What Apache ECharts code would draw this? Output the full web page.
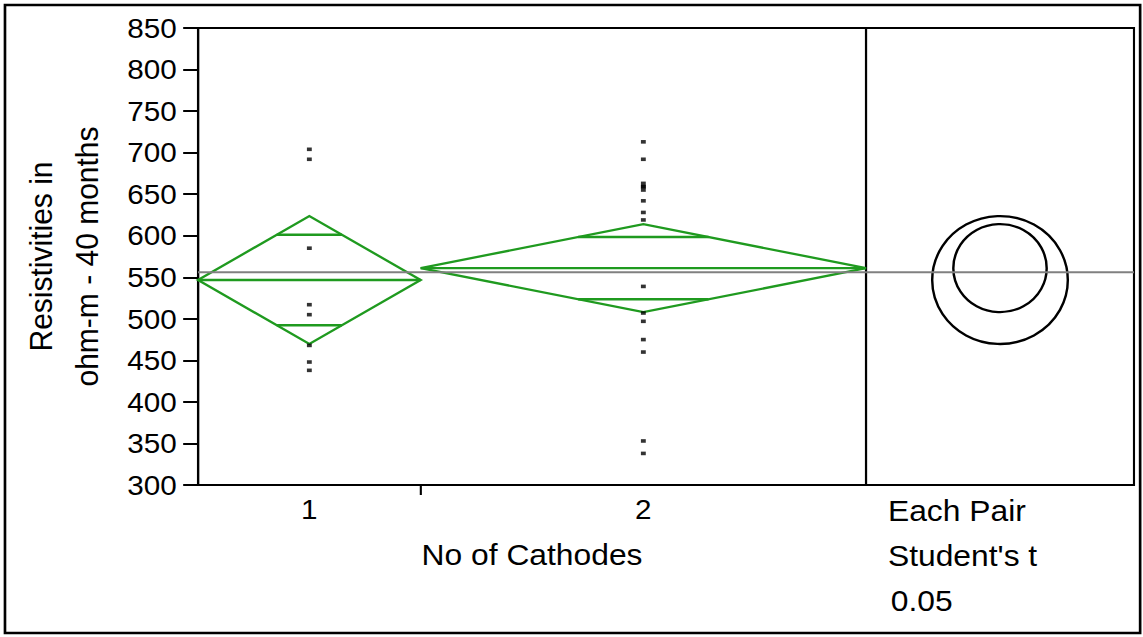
<!DOCTYPE html>
<html>
<head>
<meta charset="utf-8">
<script src="https://cdn.jsdelivr.net/npm/echarts@6/dist/echarts.min.js"></script>
<style>
html,body{margin:0;padding:0;background:#fff;overflow:hidden;width:1143px;height:637px;}
#wrap{width:1143px;height:637px;overflow:hidden;}
#chart{width:1078px;height:637px;transform:scaleX(1.06);transform-origin:0 0;}
</style>
</head>
<body>
<div id="wrap"><div id="chart"></div></div>
<script>
// ---- data ----
const categories = ['1', '2'];
const group1 = [704, 692, 585, 517, 505, 468, 448, 438];
const group2 = [713, 692, 663, 659, 659, 655, 642, 628, 619, 539, 507, 497, 475, 460, 353, 338];
const means = [546.7, 561];
const ciHalf = [77, 53];
const grandMean = 556;
const yMin = 300, yMax = 850, yStep = 50;
const panelText = ['Each Pair', "Student's t", '0.05'];

// ---- derived ----
const groups = [group1, group2];
const counts = groups.map(g => g.length);
const catStart = [];
let acc = 0;
counts.forEach(c => { catStart.push(acc); acc += c; });
const total = acc;
const centers = counts.map((c, i) => catStart[i] + c / 2);
const points = [];
groups.forEach((g, i) => g.forEach(v => points.push([centers[i], v])));
const diamondData = categories.map((c, i) => [catStart[i], catStart[i] + counts[i], means[i], ciHalf[i]]);
const circleData = categories.map((c, i) => [0.5, means[i], ciHalf[i]]);

const GREEN = '#1f9a1f';
const FONT = 'Liberation Sans, Arial, Helvetica, sans-serif';

const chart = echarts.init(document.getElementById('chart'), null, {renderer: 'svg'});
const W = 1078;
chart.setOption({
  animation: false,
  backgroundColor: '#fff',
  textStyle: {fontFamily: FONT, color: '#000'},
  grid: [
    {left: 186.8, right: W - 817, top: 28, bottom: 152, show: true, borderColor: '#000', borderWidth: 2},
    {left: 817, right: W - 1069.8, top: 28, bottom: 152, show: true, borderColor: '#000', borderWidth: 2}
  ],
  xAxis: [
    {
      gridIndex: 0, type: 'value', min: 0, max: total,
      axisLine: {lineStyle: {color: '#000', width: 2}},
      axisTick: {customValues: catStart.slice(1), length: 10, lineStyle: {color: '#000', width: 2}},
      axisLabel: {customValues: centers, fontSize: 28, color: '#000', margin: 10, fontFamily: FONT,
        formatter: v => { const i = centers.indexOf(v); return i >= 0 ? categories[i] : ''; }},
      splitLine: {show: false},
      name: 'No of Cathodes', nameLocation: 'middle', nameGap: 55,
      nameTextStyle: {fontSize: 30, color: '#000', fontFamily: FONT}
    },
    {gridIndex: 1, type: 'value', min: 0, max: 1, show: false}
  ],
  yAxis: [
    {
      gridIndex: 0, type: 'value', min: yMin, max: yMax, interval: yStep,
      axisLine: {show: true, lineStyle: {color: '#000', width: 2}},
      axisTick: {show: true, length: 14, lineStyle: {color: '#000', width: 2}},
      axisLabel: {fontSize: 28, color: '#000', margin: 20, fontFamily: FONT},
      splitLine: {show: false},
      name: 'Resistivities in\nohm-m - 40 months', nameLocation: 'middle', nameGap: 83,
      nameTextStyle: {fontSize: 30, color: '#000', lineHeight: 43.4, fontFamily: FONT}
    },
    {gridIndex: 1, type: 'value', min: yMin, max: yMax, show: false}
  ],
  graphic: [
    {type: 'rect', shape: {x: 4.7, y: 5, width: 1071.6 - 4.7 + 4, height: 628}, style: {fill: 'none', stroke: '#000', lineWidth: 2.5}, silent: true},
    {type: 'text', x: 837.7, y: 511.3, style: {text: panelText[0], fontSize: 30, fill: '#000', font: '30px ' + FONT, verticalAlign: 'middle', align: 'left'}},
    {type: 'text', x: 837.7, y: 556.3, style: {text: panelText[1], fontSize: 30, fill: '#000', font: '30px ' + FONT, verticalAlign: 'middle', align: 'left'}},
    {type: 'text', x: 840.3, y: 600.6, style: {text: panelText[2], fontSize: 30, fill: '#000', font: '30px ' + FONT, verticalAlign: 'middle', align: 'left'}}
  ],
  series: [
    {
      type: 'custom', xAxisIndex: 0, yAxisIndex: 0, data: diamondData, z: 2,
      renderItem: (params, api) => {
        const x0 = api.value(0), x1 = api.value(1), m = api.value(2), h = api.value(3);
        const xc = (x0 + x1) / 2, k = Math.SQRT1_2;
        const pL = api.coord([x0, m]), pR = api.coord([x1, m]);
        const pT = api.coord([xc, m + h]), pB = api.coord([xc, m - h]);
        const hw = (1 - k) * (x1 - x0) / 2;
        const oU1 = api.coord([xc - hw, m + h * k]), oU2 = api.coord([xc + hw, m + h * k]);
        const oL1 = api.coord([xc - hw, m - h * k]), oL2 = api.coord([xc + hw, m - h * k]);
        const st = {stroke: GREEN, lineWidth: 2.3, fill: 'none'};
        return {type: 'group', children: [
          {type: 'polygon', shape: {points: [pL, pT, pR, pB]}, style: st},
          {type: 'line', shape: {x1: pL[0], y1: pL[1], x2: pR[0], y2: pR[1]}, style: st},
          {type: 'line', shape: {x1: oU1[0], y1: oU1[1], x2: oU2[0], y2: oU2[1]}, style: st},
          {type: 'line', shape: {x1: oL1[0], y1: oL1[1], x2: oL2[0], y2: oL2[1]}, style: st}
        ]};
      }
    },
    {
      type: 'custom', xAxisIndex: 1, yAxisIndex: 1, data: circleData, z: 2,
      renderItem: (params, api) => {
        const c = api.coord([api.value(0), api.value(1)]);
        const r = api.size([0, api.value(2)])[1];
        return {type: 'circle', shape: {cx: c[0], cy: c[1], r: r}, style: {stroke: '#000', lineWidth: 2.3, fill: 'none'}};
      }
    },
    {
      type: 'line', xAxisIndex: 0, yAxisIndex: 0, data: [[0, grandMean], [total, grandMean]],
      symbol: 'none', lineStyle: {color: '#808080', width: 2}, z: 3, silent: true
    },
    {
      type: 'line', xAxisIndex: 1, yAxisIndex: 1, data: [[0, grandMean], [1, grandMean]],
      symbol: 'none', lineStyle: {color: '#808080', width: 2}, z: 3, silent: true
    },
    {
      type: 'scatter', xAxisIndex: 0, yAxisIndex: 0, data: points, z: 4,
      symbol: 'rect', symbolSize: [4.6, 3.6], itemStyle: {color: '#000'}
    }
  ]
});
</script>
</body>
</html>
